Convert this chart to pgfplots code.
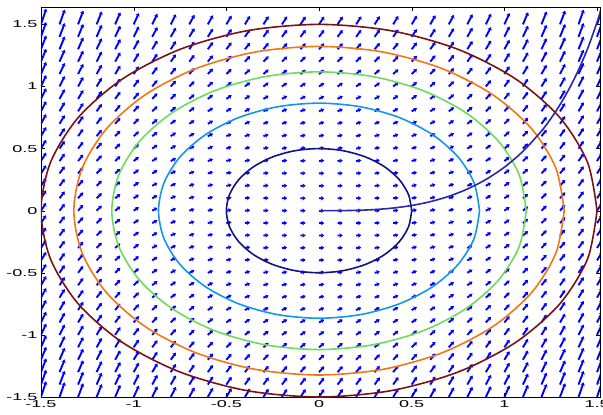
\documentclass[border=0pt]{standalone}
\usepackage{pgfplots}
\pgfplotsset{compat=1.18}
\usetikzlibrary{arrows.meta}
\usepackage{fontspec}
\setmainfont{Liberation Sans}
\newfontfamily\tickfont{Liberation Sans}[FakeStretch=1.8]
\definecolor{cA}{RGB}{20,20,130}
\definecolor{cB}{RGB}{20,150,235}
\definecolor{cC}{RGB}{110,220,90}
\definecolor{cD}{RGB}{240,120,20}
\definecolor{cE}{RGB}{120,20,20}
\definecolor{cS}{RGB}{40,40,170}
\begin{document}
\begin{tikzpicture}
\begin{axis}[
  scale only axis, width=559pt, height=390pt,
  xmin=-1.5, xmax=1.516, ymin=-1.5, ymax=1.64,
  xtick={-1.5,-1,-0.5,0,0.5,1,1.5},
  ytick={-1.5,-1,-0.5,0,0.5,1,1.5},
  tick label style={font=\tickfont\fontsize{10}{12}\selectfont},
  /pgf/number format/assume math mode=true,
  axis line style={black, line width=0.8pt},
  major tick length=4pt, tick style={black},
]
\addplot[blue, line width=1.9pt, -{Stealth[length=3.2pt,width=4.4pt]},
  quiver={u=1, v=\thisrow{v}, scale arrows=0.028}] table {
x y v
-1.5 -1.5 4.5
-1.4 -1.5 4.21
-1.3 -1.5 3.94
-1.2 -1.5 3.69
-1.1 -1.5 3.46
-1 -1.5 3.25
-0.9 -1.5 3.06
-0.8 -1.5 2.89
-0.7 -1.5 2.74
-0.6 -1.5 2.61
-0.5 -1.5 2.5
-0.4 -1.5 2.41
-0.3 -1.5 2.34
-0.2 -1.5 2.29
-0.1 -1.5 2.26
0 -1.5 2.25
0.1 -1.5 2.26
0.2 -1.5 2.29
0.3 -1.5 2.34
0.4 -1.5 2.41
0.5 -1.5 2.5
0.6 -1.5 2.61
0.7 -1.5 2.74
0.8 -1.5 2.89
0.9 -1.5 3.06
1 -1.5 3.25
1.1 -1.5 3.46
1.2 -1.5 3.69
1.3 -1.5 3.94
1.4 -1.5 4.21
1.5 -1.5 4.5
-1.5 -1.4 4.21
-1.4 -1.4 3.92
-1.3 -1.4 3.65
-1.2 -1.4 3.4
-1.1 -1.4 3.17
-1 -1.4 2.96
-0.9 -1.4 2.77
-0.8 -1.4 2.6
-0.7 -1.4 2.45
-0.6 -1.4 2.32
-0.5 -1.4 2.21
-0.4 -1.4 2.12
-0.3 -1.4 2.05
-0.2 -1.4 2
-0.1 -1.4 1.97
0 -1.4 1.96
0.1 -1.4 1.97
0.2 -1.4 2
0.3 -1.4 2.05
0.4 -1.4 2.12
0.5 -1.4 2.21
0.6 -1.4 2.32
0.7 -1.4 2.45
0.8 -1.4 2.6
0.9 -1.4 2.77
1 -1.4 2.96
1.1 -1.4 3.17
1.2 -1.4 3.4
1.3 -1.4 3.65
1.4 -1.4 3.92
1.5 -1.4 4.21
-1.5 -1.3 3.94
-1.4 -1.3 3.65
-1.3 -1.3 3.38
-1.2 -1.3 3.13
-1.1 -1.3 2.9
-1 -1.3 2.69
-0.9 -1.3 2.5
-0.8 -1.3 2.33
-0.7 -1.3 2.18
-0.6 -1.3 2.05
-0.5 -1.3 1.94
-0.4 -1.3 1.85
-0.3 -1.3 1.78
-0.2 -1.3 1.73
-0.1 -1.3 1.7
0 -1.3 1.69
0.1 -1.3 1.7
0.2 -1.3 1.73
0.3 -1.3 1.78
0.4 -1.3 1.85
0.5 -1.3 1.94
0.6 -1.3 2.05
0.7 -1.3 2.18
0.8 -1.3 2.33
0.9 -1.3 2.5
1 -1.3 2.69
1.1 -1.3 2.9
1.2 -1.3 3.13
1.3 -1.3 3.38
1.4 -1.3 3.65
1.5 -1.3 3.94
-1.5 -1.2 3.69
-1.4 -1.2 3.4
-1.3 -1.2 3.13
-1.2 -1.2 2.88
-1.1 -1.2 2.65
-1 -1.2 2.44
-0.9 -1.2 2.25
-0.8 -1.2 2.08
-0.7 -1.2 1.93
-0.6 -1.2 1.8
-0.5 -1.2 1.69
-0.4 -1.2 1.6
-0.3 -1.2 1.53
-0.2 -1.2 1.48
-0.1 -1.2 1.45
0 -1.2 1.44
0.1 -1.2 1.45
0.2 -1.2 1.48
0.3 -1.2 1.53
0.4 -1.2 1.6
0.5 -1.2 1.69
0.6 -1.2 1.8
0.7 -1.2 1.93
0.8 -1.2 2.08
0.9 -1.2 2.25
1 -1.2 2.44
1.1 -1.2 2.65
1.2 -1.2 2.88
1.3 -1.2 3.13
1.4 -1.2 3.4
1.5 -1.2 3.69
-1.5 -1.1 3.46
-1.4 -1.1 3.17
-1.3 -1.1 2.9
-1.2 -1.1 2.65
-1.1 -1.1 2.42
-1 -1.1 2.21
-0.9 -1.1 2.02
-0.8 -1.1 1.85
-0.7 -1.1 1.7
-0.6 -1.1 1.57
-0.5 -1.1 1.46
-0.4 -1.1 1.37
-0.3 -1.1 1.3
-0.2 -1.1 1.25
-0.1 -1.1 1.22
0 -1.1 1.21
0.1 -1.1 1.22
0.2 -1.1 1.25
0.3 -1.1 1.3
0.4 -1.1 1.37
0.5 -1.1 1.46
0.6 -1.1 1.57
0.7 -1.1 1.7
0.8 -1.1 1.85
0.9 -1.1 2.02
1 -1.1 2.21
1.1 -1.1 2.42
1.2 -1.1 2.65
1.3 -1.1 2.9
1.4 -1.1 3.17
1.5 -1.1 3.46
-1.5 -1 3.25
-1.4 -1 2.96
-1.3 -1 2.69
-1.2 -1 2.44
-1.1 -1 2.21
-1 -1 2
-0.9 -1 1.81
-0.8 -1 1.64
-0.7 -1 1.49
-0.6 -1 1.36
-0.5 -1 1.25
-0.4 -1 1.16
-0.3 -1 1.09
-0.2 -1 1.04
-0.1 -1 1.01
0 -1 1
0.1 -1 1.01
0.2 -1 1.04
0.3 -1 1.09
0.4 -1 1.16
0.5 -1 1.25
0.6 -1 1.36
0.7 -1 1.49
0.8 -1 1.64
0.9 -1 1.81
1 -1 2
1.1 -1 2.21
1.2 -1 2.44
1.3 -1 2.69
1.4 -1 2.96
1.5 -1 3.25
-1.5 -0.9 3.06
-1.4 -0.9 2.77
-1.3 -0.9 2.5
-1.2 -0.9 2.25
-1.1 -0.9 2.02
-1 -0.9 1.81
-0.9 -0.9 1.62
-0.8 -0.9 1.45
-0.7 -0.9 1.3
-0.6 -0.9 1.17
-0.5 -0.9 1.06
-0.4 -0.9 0.97
-0.3 -0.9 0.9
-0.2 -0.9 0.85
-0.1 -0.9 0.82
0 -0.9 0.81
0.1 -0.9 0.82
0.2 -0.9 0.85
0.3 -0.9 0.9
0.4 -0.9 0.97
0.5 -0.9 1.06
0.6 -0.9 1.17
0.7 -0.9 1.3
0.8 -0.9 1.45
0.9 -0.9 1.62
1 -0.9 1.81
1.1 -0.9 2.02
1.2 -0.9 2.25
1.3 -0.9 2.5
1.4 -0.9 2.77
1.5 -0.9 3.06
-1.5 -0.8 2.89
-1.4 -0.8 2.6
-1.3 -0.8 2.33
-1.2 -0.8 2.08
-1.1 -0.8 1.85
-1 -0.8 1.64
-0.9 -0.8 1.45
-0.8 -0.8 1.28
-0.7 -0.8 1.13
-0.6 -0.8 1
-0.5 -0.8 0.89
-0.4 -0.8 0.8
-0.3 -0.8 0.73
-0.2 -0.8 0.68
-0.1 -0.8 0.65
0 -0.8 0.64
0.1 -0.8 0.65
0.2 -0.8 0.68
0.3 -0.8 0.73
0.4 -0.8 0.8
0.5 -0.8 0.89
0.6 -0.8 1
0.7 -0.8 1.13
0.8 -0.8 1.28
0.9 -0.8 1.45
1 -0.8 1.64
1.1 -0.8 1.85
1.2 -0.8 2.08
1.3 -0.8 2.33
1.4 -0.8 2.6
1.5 -0.8 2.89
-1.5 -0.7 2.74
-1.4 -0.7 2.45
-1.3 -0.7 2.18
-1.2 -0.7 1.93
-1.1 -0.7 1.7
-1 -0.7 1.49
-0.9 -0.7 1.3
-0.8 -0.7 1.13
-0.7 -0.7 0.98
-0.6 -0.7 0.85
-0.5 -0.7 0.74
-0.4 -0.7 0.65
-0.3 -0.7 0.58
-0.2 -0.7 0.53
-0.1 -0.7 0.5
0 -0.7 0.49
0.1 -0.7 0.5
0.2 -0.7 0.53
0.3 -0.7 0.58
0.4 -0.7 0.65
0.5 -0.7 0.74
0.6 -0.7 0.85
0.7 -0.7 0.98
0.8 -0.7 1.13
0.9 -0.7 1.3
1 -0.7 1.49
1.1 -0.7 1.7
1.2 -0.7 1.93
1.3 -0.7 2.18
1.4 -0.7 2.45
1.5 -0.7 2.74
-1.5 -0.6 2.61
-1.4 -0.6 2.32
-1.3 -0.6 2.05
-1.2 -0.6 1.8
-1.1 -0.6 1.57
-1 -0.6 1.36
-0.9 -0.6 1.17
-0.8 -0.6 1
-0.7 -0.6 0.85
-0.6 -0.6 0.72
-0.5 -0.6 0.61
-0.4 -0.6 0.52
-0.3 -0.6 0.45
-0.2 -0.6 0.4
-0.1 -0.6 0.37
0 -0.6 0.36
0.1 -0.6 0.37
0.2 -0.6 0.4
0.3 -0.6 0.45
0.4 -0.6 0.52
0.5 -0.6 0.61
0.6 -0.6 0.72
0.7 -0.6 0.85
0.8 -0.6 1
0.9 -0.6 1.17
1 -0.6 1.36
1.1 -0.6 1.57
1.2 -0.6 1.8
1.3 -0.6 2.05
1.4 -0.6 2.32
1.5 -0.6 2.61
-1.5 -0.5 2.5
-1.4 -0.5 2.21
-1.3 -0.5 1.94
-1.2 -0.5 1.69
-1.1 -0.5 1.46
-1 -0.5 1.25
-0.9 -0.5 1.06
-0.8 -0.5 0.89
-0.7 -0.5 0.74
-0.6 -0.5 0.61
-0.5 -0.5 0.5
-0.4 -0.5 0.41
-0.3 -0.5 0.34
-0.2 -0.5 0.29
-0.1 -0.5 0.26
0 -0.5 0.25
0.1 -0.5 0.26
0.2 -0.5 0.29
0.3 -0.5 0.34
0.4 -0.5 0.41
0.5 -0.5 0.5
0.6 -0.5 0.61
0.7 -0.5 0.74
0.8 -0.5 0.89
0.9 -0.5 1.06
1 -0.5 1.25
1.1 -0.5 1.46
1.2 -0.5 1.69
1.3 -0.5 1.94
1.4 -0.5 2.21
1.5 -0.5 2.5
-1.5 -0.4 2.41
-1.4 -0.4 2.12
-1.3 -0.4 1.85
-1.2 -0.4 1.6
-1.1 -0.4 1.37
-1 -0.4 1.16
-0.9 -0.4 0.97
-0.8 -0.4 0.8
-0.7 -0.4 0.65
-0.6 -0.4 0.52
-0.5 -0.4 0.41
-0.4 -0.4 0.32
-0.3 -0.4 0.25
-0.2 -0.4 0.2
-0.1 -0.4 0.17
0 -0.4 0.16
0.1 -0.4 0.17
0.2 -0.4 0.2
0.3 -0.4 0.25
0.4 -0.4 0.32
0.5 -0.4 0.41
0.6 -0.4 0.52
0.7 -0.4 0.65
0.8 -0.4 0.8
0.9 -0.4 0.97
1 -0.4 1.16
1.1 -0.4 1.37
1.2 -0.4 1.6
1.3 -0.4 1.85
1.4 -0.4 2.12
1.5 -0.4 2.41
-1.5 -0.3 2.34
-1.4 -0.3 2.05
-1.3 -0.3 1.78
-1.2 -0.3 1.53
-1.1 -0.3 1.3
-1 -0.3 1.09
-0.9 -0.3 0.9
-0.8 -0.3 0.73
-0.7 -0.3 0.58
-0.6 -0.3 0.45
-0.5 -0.3 0.34
-0.4 -0.3 0.25
-0.3 -0.3 0.18
-0.2 -0.3 0.13
-0.1 -0.3 0.1
0 -0.3 0.09
0.1 -0.3 0.1
0.2 -0.3 0.13
0.3 -0.3 0.18
0.4 -0.3 0.25
0.5 -0.3 0.34
0.6 -0.3 0.45
0.7 -0.3 0.58
0.8 -0.3 0.73
0.9 -0.3 0.9
1 -0.3 1.09
1.1 -0.3 1.3
1.2 -0.3 1.53
1.3 -0.3 1.78
1.4 -0.3 2.05
1.5 -0.3 2.34
-1.5 -0.2 2.29
-1.4 -0.2 2
-1.3 -0.2 1.73
-1.2 -0.2 1.48
-1.1 -0.2 1.25
-1 -0.2 1.04
-0.9 -0.2 0.85
-0.8 -0.2 0.68
-0.7 -0.2 0.53
-0.6 -0.2 0.4
-0.5 -0.2 0.29
-0.4 -0.2 0.2
-0.3 -0.2 0.13
-0.2 -0.2 0.08
-0.1 -0.2 0.05
0 -0.2 0.04
0.1 -0.2 0.05
0.2 -0.2 0.08
0.3 -0.2 0.13
0.4 -0.2 0.2
0.5 -0.2 0.29
0.6 -0.2 0.4
0.7 -0.2 0.53
0.8 -0.2 0.68
0.9 -0.2 0.85
1 -0.2 1.04
1.1 -0.2 1.25
1.2 -0.2 1.48
1.3 -0.2 1.73
1.4 -0.2 2
1.5 -0.2 2.29
-1.5 -0.1 2.26
-1.4 -0.1 1.97
-1.3 -0.1 1.7
-1.2 -0.1 1.45
-1.1 -0.1 1.22
-1 -0.1 1.01
-0.9 -0.1 0.82
-0.8 -0.1 0.65
-0.7 -0.1 0.5
-0.6 -0.1 0.37
-0.5 -0.1 0.26
-0.4 -0.1 0.17
-0.3 -0.1 0.1
-0.2 -0.1 0.05
-0.1 -0.1 0.02
0 -0.1 0.01
0.1 -0.1 0.02
0.2 -0.1 0.05
0.3 -0.1 0.1
0.4 -0.1 0.17
0.5 -0.1 0.26
0.6 -0.1 0.37
0.7 -0.1 0.5
0.8 -0.1 0.65
0.9 -0.1 0.82
1 -0.1 1.01
1.1 -0.1 1.22
1.2 -0.1 1.45
1.3 -0.1 1.7
1.4 -0.1 1.97
1.5 -0.1 2.26
-1.5 0 2.25
-1.4 0 1.96
-1.3 0 1.69
-1.2 0 1.44
-1.1 0 1.21
-1 0 1
-0.9 0 0.81
-0.8 0 0.64
-0.7 0 0.49
-0.6 0 0.36
-0.5 0 0.25
-0.4 0 0.16
-0.3 0 0.09
-0.2 0 0.04
-0.1 0 0.01
0 0 0
0.1 0 0.01
0.2 0 0.04
0.3 0 0.09
0.4 0 0.16
0.5 0 0.25
0.6 0 0.36
0.7 0 0.49
0.8 0 0.64
0.9 0 0.81
1 0 1
1.1 0 1.21
1.2 0 1.44
1.3 0 1.69
1.4 0 1.96
1.5 0 2.25
-1.5 0.1 2.26
-1.4 0.1 1.97
-1.3 0.1 1.7
-1.2 0.1 1.45
-1.1 0.1 1.22
-1 0.1 1.01
-0.9 0.1 0.82
-0.8 0.1 0.65
-0.7 0.1 0.5
-0.6 0.1 0.37
-0.5 0.1 0.26
-0.4 0.1 0.17
-0.3 0.1 0.1
-0.2 0.1 0.05
-0.1 0.1 0.02
0 0.1 0.01
0.1 0.1 0.02
0.2 0.1 0.05
0.3 0.1 0.1
0.4 0.1 0.17
0.5 0.1 0.26
0.6 0.1 0.37
0.7 0.1 0.5
0.8 0.1 0.65
0.9 0.1 0.82
1 0.1 1.01
1.1 0.1 1.22
1.2 0.1 1.45
1.3 0.1 1.7
1.4 0.1 1.97
1.5 0.1 2.26
-1.5 0.2 2.29
-1.4 0.2 2
-1.3 0.2 1.73
-1.2 0.2 1.48
-1.1 0.2 1.25
-1 0.2 1.04
-0.9 0.2 0.85
-0.8 0.2 0.68
-0.7 0.2 0.53
-0.6 0.2 0.4
-0.5 0.2 0.29
-0.4 0.2 0.2
-0.3 0.2 0.13
-0.2 0.2 0.08
-0.1 0.2 0.05
0 0.2 0.04
0.1 0.2 0.05
0.2 0.2 0.08
0.3 0.2 0.13
0.4 0.2 0.2
0.5 0.2 0.29
0.6 0.2 0.4
0.7 0.2 0.53
0.8 0.2 0.68
0.9 0.2 0.85
1 0.2 1.04
1.1 0.2 1.25
1.2 0.2 1.48
1.3 0.2 1.73
1.4 0.2 2
1.5 0.2 2.29
-1.5 0.3 2.34
-1.4 0.3 2.05
-1.3 0.3 1.78
-1.2 0.3 1.53
-1.1 0.3 1.3
-1 0.3 1.09
-0.9 0.3 0.9
-0.8 0.3 0.73
-0.7 0.3 0.58
-0.6 0.3 0.45
-0.5 0.3 0.34
-0.4 0.3 0.25
-0.3 0.3 0.18
-0.2 0.3 0.13
-0.1 0.3 0.1
0 0.3 0.09
0.1 0.3 0.1
0.2 0.3 0.13
0.3 0.3 0.18
0.4 0.3 0.25
0.5 0.3 0.34
0.6 0.3 0.45
0.7 0.3 0.58
0.8 0.3 0.73
0.9 0.3 0.9
1 0.3 1.09
1.1 0.3 1.3
1.2 0.3 1.53
1.3 0.3 1.78
1.4 0.3 2.05
1.5 0.3 2.34
-1.5 0.4 2.41
-1.4 0.4 2.12
-1.3 0.4 1.85
-1.2 0.4 1.6
-1.1 0.4 1.37
-1 0.4 1.16
-0.9 0.4 0.97
-0.8 0.4 0.8
-0.7 0.4 0.65
-0.6 0.4 0.52
-0.5 0.4 0.41
-0.4 0.4 0.32
-0.3 0.4 0.25
-0.2 0.4 0.2
-0.1 0.4 0.17
0 0.4 0.16
0.1 0.4 0.17
0.2 0.4 0.2
0.3 0.4 0.25
0.4 0.4 0.32
0.5 0.4 0.41
0.6 0.4 0.52
0.7 0.4 0.65
0.8 0.4 0.8
0.9 0.4 0.97
1 0.4 1.16
1.1 0.4 1.37
1.2 0.4 1.6
1.3 0.4 1.85
1.4 0.4 2.12
1.5 0.4 2.41
-1.5 0.5 2.5
-1.4 0.5 2.21
-1.3 0.5 1.94
-1.2 0.5 1.69
-1.1 0.5 1.46
-1 0.5 1.25
-0.9 0.5 1.06
-0.8 0.5 0.89
-0.7 0.5 0.74
-0.6 0.5 0.61
-0.5 0.5 0.5
-0.4 0.5 0.41
-0.3 0.5 0.34
-0.2 0.5 0.29
-0.1 0.5 0.26
0 0.5 0.25
0.1 0.5 0.26
0.2 0.5 0.29
0.3 0.5 0.34
0.4 0.5 0.41
0.5 0.5 0.5
0.6 0.5 0.61
0.7 0.5 0.74
0.8 0.5 0.89
0.9 0.5 1.06
1 0.5 1.25
1.1 0.5 1.46
1.2 0.5 1.69
1.3 0.5 1.94
1.4 0.5 2.21
1.5 0.5 2.5
-1.5 0.6 2.61
-1.4 0.6 2.32
-1.3 0.6 2.05
-1.2 0.6 1.8
-1.1 0.6 1.57
-1 0.6 1.36
-0.9 0.6 1.17
-0.8 0.6 1
-0.7 0.6 0.85
-0.6 0.6 0.72
-0.5 0.6 0.61
-0.4 0.6 0.52
-0.3 0.6 0.45
-0.2 0.6 0.4
-0.1 0.6 0.37
0 0.6 0.36
0.1 0.6 0.37
0.2 0.6 0.4
0.3 0.6 0.45
0.4 0.6 0.52
0.5 0.6 0.61
0.6 0.6 0.72
0.7 0.6 0.85
0.8 0.6 1
0.9 0.6 1.17
1 0.6 1.36
1.1 0.6 1.57
1.2 0.6 1.8
1.3 0.6 2.05
1.4 0.6 2.32
1.5 0.6 2.61
-1.5 0.7 2.74
-1.4 0.7 2.45
-1.3 0.7 2.18
-1.2 0.7 1.93
-1.1 0.7 1.7
-1 0.7 1.49
-0.9 0.7 1.3
-0.8 0.7 1.13
-0.7 0.7 0.98
-0.6 0.7 0.85
-0.5 0.7 0.74
-0.4 0.7 0.65
-0.3 0.7 0.58
-0.2 0.7 0.53
-0.1 0.7 0.5
0 0.7 0.49
0.1 0.7 0.5
0.2 0.7 0.53
0.3 0.7 0.58
0.4 0.7 0.65
0.5 0.7 0.74
0.6 0.7 0.85
0.7 0.7 0.98
0.8 0.7 1.13
0.9 0.7 1.3
1 0.7 1.49
1.1 0.7 1.7
1.2 0.7 1.93
1.3 0.7 2.18
1.4 0.7 2.45
1.5 0.7 2.74
-1.5 0.8 2.89
-1.4 0.8 2.6
-1.3 0.8 2.33
-1.2 0.8 2.08
-1.1 0.8 1.85
-1 0.8 1.64
-0.9 0.8 1.45
-0.8 0.8 1.28
-0.7 0.8 1.13
-0.6 0.8 1
-0.5 0.8 0.89
-0.4 0.8 0.8
-0.3 0.8 0.73
-0.2 0.8 0.68
-0.1 0.8 0.65
0 0.8 0.64
0.1 0.8 0.65
0.2 0.8 0.68
0.3 0.8 0.73
0.4 0.8 0.8
0.5 0.8 0.89
0.6 0.8 1
0.7 0.8 1.13
0.8 0.8 1.28
0.9 0.8 1.45
1 0.8 1.64
1.1 0.8 1.85
1.2 0.8 2.08
1.3 0.8 2.33
1.4 0.8 2.6
1.5 0.8 2.89
-1.5 0.9 3.06
-1.4 0.9 2.77
-1.3 0.9 2.5
-1.2 0.9 2.25
-1.1 0.9 2.02
-1 0.9 1.81
-0.9 0.9 1.62
-0.8 0.9 1.45
-0.7 0.9 1.3
-0.6 0.9 1.17
-0.5 0.9 1.06
-0.4 0.9 0.97
-0.3 0.9 0.9
-0.2 0.9 0.85
-0.1 0.9 0.82
0 0.9 0.81
0.1 0.9 0.82
0.2 0.9 0.85
0.3 0.9 0.9
0.4 0.9 0.97
0.5 0.9 1.06
0.6 0.9 1.17
0.7 0.9 1.3
0.8 0.9 1.45
0.9 0.9 1.62
1 0.9 1.81
1.1 0.9 2.02
1.2 0.9 2.25
1.3 0.9 2.5
1.4 0.9 2.77
1.5 0.9 3.06
-1.5 1 3.25
-1.4 1 2.96
-1.3 1 2.69
-1.2 1 2.44
-1.1 1 2.21
-1 1 2
-0.9 1 1.81
-0.8 1 1.64
-0.7 1 1.49
-0.6 1 1.36
-0.5 1 1.25
-0.4 1 1.16
-0.3 1 1.09
-0.2 1 1.04
-0.1 1 1.01
0 1 1
0.1 1 1.01
0.2 1 1.04
0.3 1 1.09
0.4 1 1.16
0.5 1 1.25
0.6 1 1.36
0.7 1 1.49
0.8 1 1.64
0.9 1 1.81
1 1 2
1.1 1 2.21
1.2 1 2.44
1.3 1 2.69
1.4 1 2.96
1.5 1 3.25
-1.5 1.1 3.46
-1.4 1.1 3.17
-1.3 1.1 2.9
-1.2 1.1 2.65
-1.1 1.1 2.42
-1 1.1 2.21
-0.9 1.1 2.02
-0.8 1.1 1.85
-0.7 1.1 1.7
-0.6 1.1 1.57
-0.5 1.1 1.46
-0.4 1.1 1.37
-0.3 1.1 1.3
-0.2 1.1 1.25
-0.1 1.1 1.22
0 1.1 1.21
0.1 1.1 1.22
0.2 1.1 1.25
0.3 1.1 1.3
0.4 1.1 1.37
0.5 1.1 1.46
0.6 1.1 1.57
0.7 1.1 1.7
0.8 1.1 1.85
0.9 1.1 2.02
1 1.1 2.21
1.1 1.1 2.42
1.2 1.1 2.65
1.3 1.1 2.9
1.4 1.1 3.17
1.5 1.1 3.46
-1.5 1.2 3.69
-1.4 1.2 3.4
-1.3 1.2 3.13
-1.2 1.2 2.88
-1.1 1.2 2.65
-1 1.2 2.44
-0.9 1.2 2.25
-0.8 1.2 2.08
-0.7 1.2 1.93
-0.6 1.2 1.8
-0.5 1.2 1.69
-0.4 1.2 1.6
-0.3 1.2 1.53
-0.2 1.2 1.48
-0.1 1.2 1.45
0 1.2 1.44
0.1 1.2 1.45
0.2 1.2 1.48
0.3 1.2 1.53
0.4 1.2 1.6
0.5 1.2 1.69
0.6 1.2 1.8
0.7 1.2 1.93
0.8 1.2 2.08
0.9 1.2 2.25
1 1.2 2.44
1.1 1.2 2.65
1.2 1.2 2.88
1.3 1.2 3.13
1.4 1.2 3.4
1.5 1.2 3.69
-1.5 1.3 3.94
-1.4 1.3 3.65
-1.3 1.3 3.38
-1.2 1.3 3.13
-1.1 1.3 2.9
-1 1.3 2.69
-0.9 1.3 2.5
-0.8 1.3 2.33
-0.7 1.3 2.18
-0.6 1.3 2.05
-0.5 1.3 1.94
-0.4 1.3 1.85
-0.3 1.3 1.78
-0.2 1.3 1.73
-0.1 1.3 1.7
0 1.3 1.69
0.1 1.3 1.7
0.2 1.3 1.73
0.3 1.3 1.78
0.4 1.3 1.85
0.5 1.3 1.94
0.6 1.3 2.05
0.7 1.3 2.18
0.8 1.3 2.33
0.9 1.3 2.5
1 1.3 2.69
1.1 1.3 2.9
1.2 1.3 3.13
1.3 1.3 3.38
1.4 1.3 3.65
1.5 1.3 3.94
-1.5 1.4 4.21
-1.4 1.4 3.92
-1.3 1.4 3.65
-1.2 1.4 3.4
-1.1 1.4 3.17
-1 1.4 2.96
-0.9 1.4 2.77
-0.8 1.4 2.6
-0.7 1.4 2.45
-0.6 1.4 2.32
-0.5 1.4 2.21
-0.4 1.4 2.12
-0.3 1.4 2.05
-0.2 1.4 2
-0.1 1.4 1.97
0 1.4 1.96
0.1 1.4 1.97
0.2 1.4 2
0.3 1.4 2.05
0.4 1.4 2.12
0.5 1.4 2.21
0.6 1.4 2.32
0.7 1.4 2.45
0.8 1.4 2.6
0.9 1.4 2.77
1 1.4 2.96
1.1 1.4 3.17
1.2 1.4 3.4
1.3 1.4 3.65
1.4 1.4 3.92
1.5 1.4 4.21
-1.5 1.5 4.5
-1.4 1.5 4.21
-1.3 1.5 3.94
-1.2 1.5 3.69
-1.1 1.5 3.46
-1 1.5 3.25
-0.9 1.5 3.06
-0.8 1.5 2.89
-0.7 1.5 2.74
-0.6 1.5 2.61
-0.5 1.5 2.5
-0.4 1.5 2.41
-0.3 1.5 2.34
-0.2 1.5 2.29
-0.1 1.5 2.26
0 1.5 2.25
0.1 1.5 2.26
0.2 1.5 2.29
0.3 1.5 2.34
0.4 1.5 2.41
0.5 1.5 2.5
0.6 1.5 2.61
0.7 1.5 2.74
0.8 1.5 2.89
0.9 1.5 3.06
1 1.5 3.25
1.1 1.5 3.46
1.2 1.5 3.69
1.3 1.5 3.94
1.4 1.5 4.21
1.5 1.5 4.5
};
% contours x^2+y^2 = const
\addplot[cA, line width=1.6pt, smooth] coordinates {
(0.5,0) (0.48296,0.12941) (0.43301,0.25) (0.35355,0.35355) (0.25,0.43301) (0.12941,0.48296) (0,0.5) (-0.12941,0.48296) (-0.25,0.43301) (-0.35355,0.35355) (-0.43301,0.25) (-0.48296,0.12941) (-0.5,0) (-0.48296,-0.12941) (-0.43301,-0.25) (-0.35355,-0.35355) (-0.25,-0.43301) (-0.12941,-0.48296) (0,-0.5) (0.12941,-0.48296) (0.25,-0.43301) (0.35355,-0.35355) (0.43301,-0.25) (0.48296,-0.12941) (0.5,0)};
\addplot[cB, line width=1.6pt, smooth] coordinates {
(0.86603,0) (0.83652,0.22414) (0.75,0.43301) (0.61237,0.61237) (0.43301,0.75) (0.22414,0.83652) (0,0.86603) (-0.22414,0.83652) (-0.43301,0.75) (-0.61237,0.61237) (-0.75,0.43301) (-0.83652,0.22414) (-0.86603,0) (-0.83652,-0.22414) (-0.75,-0.43301) (-0.61237,-0.61237) (-0.43301,-0.75) (-0.22414,-0.83652) (0,-0.86603) (0.22414,-0.83652) (0.43301,-0.75) (0.61237,-0.61237) (0.75,-0.43301) (0.83652,-0.22414) (0.86603,0)};
\addplot[cC, line width=1.6pt, smooth] coordinates {
(1.11803,0) (1.07994,0.28937) (0.96825,0.55902) (0.79057,0.79057) (0.55902,0.96825) (0.28937,1.07994) (0,1.11803) (-0.28937,1.07994) (-0.55902,0.96825) (-0.79057,0.79057) (-0.96825,0.55902) (-1.07994,0.28937) (-1.11803,0) (-1.07994,-0.28937) (-0.96825,-0.55902) (-0.79057,-0.79057) (-0.55902,-0.96825) (-0.28937,-1.07994) (0,-1.11803) (0.28937,-1.07994) (0.55902,-0.96825) (0.79057,-0.79057) (0.96825,-0.55902) (1.07994,-0.28937) (1.11803,0)};
\addplot[cD, line width=1.6pt, smooth] coordinates {
(1.32288,0) (1.27781,0.34239) (1.14564,0.66144) (0.93541,0.93541) (0.66144,1.14564) (0.34239,1.27781) (0,1.32288) (-0.34239,1.27781) (-0.66144,1.14564) (-0.93541,0.93541) (-1.14564,0.66144) (-1.27781,0.34239) (-1.32288,0) (-1.27781,-0.34239) (-1.14564,-0.66144) (-0.93541,-0.93541) (-0.66144,-1.14564) (-0.34239,-1.27781) (0,-1.32288) (0.34239,-1.27781) (0.66144,-1.14564) (0.93541,-0.93541) (1.14564,-0.66144) (1.27781,-0.34239) (1.32288,0)};
\addplot[cE, line width=1.6pt, smooth] coordinates {
(1.5,0) (1.44889,0.38823) (1.29904,0.75) (1.06066,1.06066) (0.75,1.29904) (0.38823,1.44889) (0,1.5) (-0.38823,1.44889) (-0.75,1.29904) (-1.06066,1.06066) (-1.29904,0.75) (-1.44889,0.38823) (-1.5,0) (-1.44889,-0.38823) (-1.29904,-0.75) (-1.06066,-1.06066) (-0.75,-1.29904) (-0.38823,-1.44889) (0,-1.5) (0.38823,-1.44889) (0.75,-1.29904) (1.06066,-1.06066) (1.29904,-0.75) (1.44889,-0.38823) (1.5,0)};
% solution curve y' = x^2 + y^2, y(0) = 0
\addplot[cS, line width=1.6pt, smooth] coordinates {
(0,0) (0.1,0.0003) (0.2,0.0027) (0.3,0.0090) (0.4,0.0214) (0.5,0.0418) (0.6,0.0725) (0.7,0.1157) (0.8,0.1741) (0.9,0.2509) (1.0,0.3502) (1.1,0.4776) (1.2,0.6411) (1.25,0.7399) (1.3,0.8529) (1.35,0.9827) (1.4,1.1331) (1.45,1.3084) (1.5,1.5175) (1.53,1.66)};
\end{axis}
\pgfresetboundingbox
\path ([shift={(-41pt,-17pt)}]current axis.south west) rectangle ([shift={(3pt,7pt)}]current axis.north east);
\end{tikzpicture}
\end{document}
